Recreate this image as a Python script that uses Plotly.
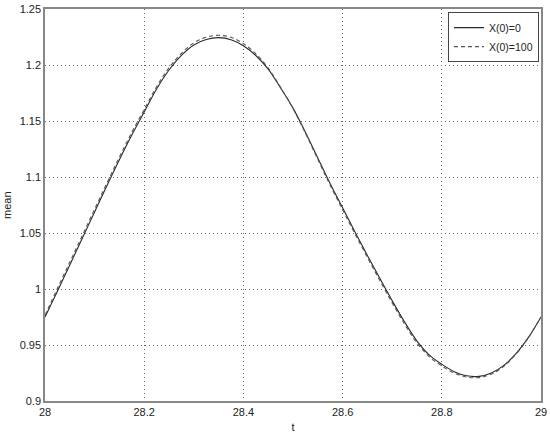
import plotly.graph_objects as go

# time axis
t = [28.000, 28.025, 28.050, 28.075, 28.100, 28.125, 28.150, 28.175, 28.200,
     28.225, 28.250, 28.275, 28.300, 28.325, 28.350, 28.375, 28.400, 28.425,
     28.450, 28.475, 28.500, 28.525, 28.550, 28.575, 28.600, 28.625, 28.650,
     28.675, 28.700, 28.725, 28.750, 28.775, 28.800, 28.825, 28.850, 28.875,
     28.900, 28.925, 28.950, 28.975, 29.000]

# mean, X(0)=0
mean_x0 = [0.975, 0.998, 1.0215, 1.045, 1.0688, 1.0925, 1.1155, 1.1375, 1.158,
           1.1785, 1.1955, 1.2085, 1.2178, 1.2228, 1.2244, 1.2226, 1.2172, 1.2085,
           1.1963, 1.1795, 1.1615, 1.140, 1.117, 1.094, 1.0725, 1.051, 1.030,
           1.0095, 0.9895, 0.9705, 0.9535, 0.941, 0.9328, 0.9262, 0.9225, 0.9220,
           0.9250, 0.9318, 0.9425, 0.957, 0.975]

# mean, X(0)=100
mean_x100 = [0.9765, 1.0005, 1.024, 1.0475, 1.0712, 1.0948, 1.1178, 1.1398, 1.1603,
             1.1806, 1.1975, 1.2104, 1.2197, 1.2247, 1.2265, 1.2247, 1.2191, 1.2100,
             1.1972, 1.1800, 1.1612, 1.1392, 1.1158, 1.0926, 1.0708, 1.0492, 1.0282,
             1.0076, 0.9876, 0.9686, 0.9518, 0.9394, 0.9314, 0.9250, 0.9214, 0.9209,
             0.9240, 0.9310, 0.9420, 0.9568, 0.9752]

x_ticks = [28, 28.2, 28.4, 28.6, 28.8, 29]
x_labels = ['28', '28.2', '28.4', '28.6', '28.8', '29']
y_ticks = [0.9, 0.95, 1, 1.05, 1.1, 1.15, 1.2, 1.25]
y_labels = ['0.9', '0.95', '1', '1.05', '1.1', '1.15', '1.2', '1.25']

fig = go.Figure()
fig.add_trace(go.Scatter(x=t, y=mean_x0, mode='lines', name='X(0)=0',
                         line=dict(color='#2a2a2a', width=1.1, shape='spline')))
fig.add_trace(go.Scatter(x=t, y=mean_x100, mode='lines', name='X(0)=100',
                         line=dict(color='#555555', width=1.1, dash='4px,3px',
                                   shape='spline')))

axis_common = dict(showgrid=True, gridcolor='#666666', griddash='1px,3px', gridwidth=1,
                   showline=True, linecolor='#888888', linewidth=1.5, mirror=True,
                   zeroline=False, ticks='', automargin=False,
                   tickfont=dict(size=11, color='#222222'))

fig.update_layout(
    width=550, height=436,
    margin=dict(l=45, r=9, t=9, b=35),
    paper_bgcolor='white', plot_bgcolor='white',
    font=dict(family='Liberation Sans, Arial, sans-serif', size=11, color='#222222'),
    xaxis=dict(range=[28, 29], tickvals=x_ticks, ticktext=x_labels,
               title=dict(text='t', standoff=6, font=dict(size=11)), **axis_common),
    yaxis=dict(range=[0.9, 1.25], tickvals=y_ticks, ticktext=y_labels, **axis_common),
    legend=dict(x=0.996, y=0.992, xanchor='right', yanchor='top',
                bgcolor='white', bordercolor='#444444', borderwidth=1,
                font=dict(size=10.5), tracegroupgap=0, itemwidth=30),
    showlegend=True,
)

# y label sits closer to the edge than plotly's axis title would put it
fig.add_annotation(text='mean', textangle=-90, xref='paper', yref='paper',
                   x=-0.0766, y=0.5, xanchor='center', yanchor='middle',
                   showarrow=False, font=dict(size=11))

# drop the default 8px body margin so the figure fills the window
fig.write_html("out.html", config={'displayModeBar': False},
               post_script="document.body.style.margin='0';")
